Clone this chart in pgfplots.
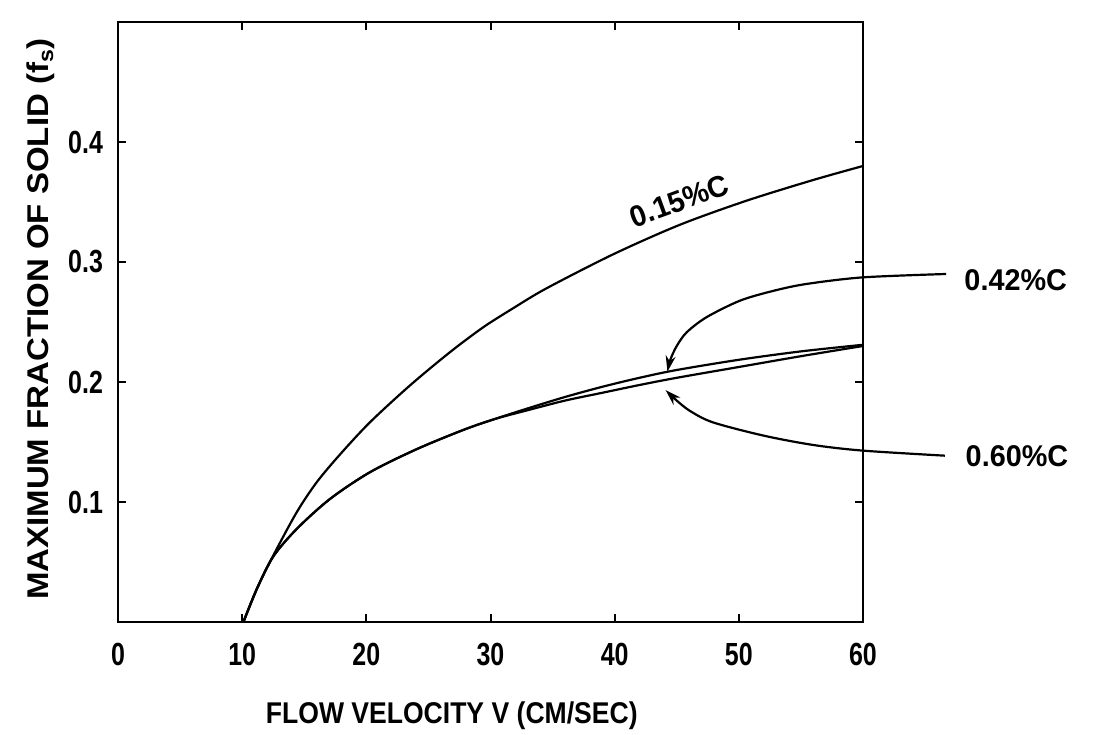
\documentclass[border=0pt]{standalone}
\usepackage{fontspec}
\setmainfont{Liberation Sans}[BoldFont={Liberation Sans Bold}]
\newfontfamily\xlabfont{Liberation Sans Bold}[FakeStretch=0.885]
\newfontfamily\ylabfont{Liberation Sans Bold}[FakeStretch=1.1]
\newfontfamily\tickfont{Liberation Sans Bold}[FakeStretch=0.78]
\newfontfamily\annfont{Liberation Sans Bold}[FakeStretch=0.96]
\usepackage{pgfplots}
\pgfplotsset{compat=1.18}
\usetikzlibrary{arrows.meta}
\begin{document}
\begin{tikzpicture}
\begin{axis}[name=ax,
  scale only axis, width=372.5pt, height=300pt,
  xmin=0, xmax=60, ymin=0, ymax=0.5,
  xtick={0,10,...,60}, ytick={0.1,0.2,0.3,0.4},
  yticklabels={0.1,0.2,0.3,0.4},
  tick align=inside, major tick length=4pt,
  axis line style={line width=1.4pt}, tick style={line width=1pt, black},
  clip=false,
  /pgf/number format/assume math mode=true,
  ticklabel style={font=\fontsize{16}{18}\selectfont\tickfont},
  xticklabel style={yshift=-7pt},
  yticklabel style={xshift=-4pt},
  xlabel={FLOW VELOCITY V (CM/SEC)},
  ylabel={MAXIMUM FRACTION OF SOLID (f\textsubscript{s})},
  xlabel style={font=\fontsize{15}{18}\selectfont\xlabfont, at={(rel axis cs:0.448,-0.156)}, anchor=center},
  ylabel style={font=\fontsize{15}{18}\selectfont\ylabfont, at={(rel axis cs:-0.1034,0.505)}, anchor=center},
]
% 0.15% C
\addplot[smooth, line width=1.1pt, black] coordinates {
 (10.1,0) (11.2,0.028) (12.5,0.0553) (14.39,0.0914) (16.0,0.1164) (17.87,0.1395)
 (20.29,0.1664) (23.5,0.197) (26.73,0.2248) (29.4,0.2455) (31.83,0.2615) (34.5,0.278)
 (39.9,0.3065) (45.25,0.331) (50.6,0.351) (55.98,0.3683) (60,0.380)};
% 0.42% C
\addplot[smooth, line width=1.1pt, black] coordinates {
 (10.1,0) (11.2,0.028) (12.5,0.0545) (14.39,0.0775) (17.07,0.1025) (20.29,0.1248)
 (24.05,0.144) (27.8,0.160) (30.3,0.169) (33,0.178) (36,0.1875) (39,0.196)
 (42,0.2035) (45,0.2100) (50,0.2185) (55,0.2255) (60,0.231)};
% 0.60% C
\addplot[smooth, line width=1.1pt, black] coordinates {
 (10.1,0) (11.2,0.028) (12.5,0.0545) (14.39,0.0775) (17.07,0.1025) (20.29,0.1248)
 (24.05,0.144) (27.8,0.160) (30.3,0.169) (33,0.1765) (36,0.1845) (39,0.191)
 (42,0.1975) (45,0.2035) (50,0.2125) (55,0.2215) (60,0.230)};
% arrows
\addplot[smooth, line width=1.1pt, black, -{Stealth[length=8pt,width=5pt]}] coordinates {
 (66.7,0.290) (60,0.2872) (55.45,0.2817) (52.8,0.276) (50.1,0.2678) (47.4,0.254)
 (45.8,0.2414) (45.0,0.230) (44.5,0.219) (44.25,0.2086)};
\addplot[smooth, line width=1.1pt, black, -{Stealth[length=8pt,width=5pt]}] coordinates {
 (66.6,0.1386) (60,0.1428) (56,0.1475) (52,0.1553) (47.9,0.1664) (46.05,0.176)
 (45.0,0.1845) (44.1,0.1933)};
\node[font=\fontsize{15}{18}\selectfont\annfont, rotate=20] at (axis cs:45.2,0.351) {0.15\%C};
\node[font=\fontsize{15}{18}\selectfont\annfont] at (axis cs:72.3,0.2852) {0.42\%C};
\node[font=\fontsize{15}{18}\selectfont\annfont] at (axis cs:72.4,0.1386) {0.60\%C};
\end{axis}
\path (ax.south west) ++(-59pt,-56.5pt) coordinate (bl);
\path (ax.north east) ++(118pt,11pt) coordinate (tr);
\pgfresetboundingbox
\useasboundingbox (bl) rectangle (tr);
\end{tikzpicture}
\end{document}
